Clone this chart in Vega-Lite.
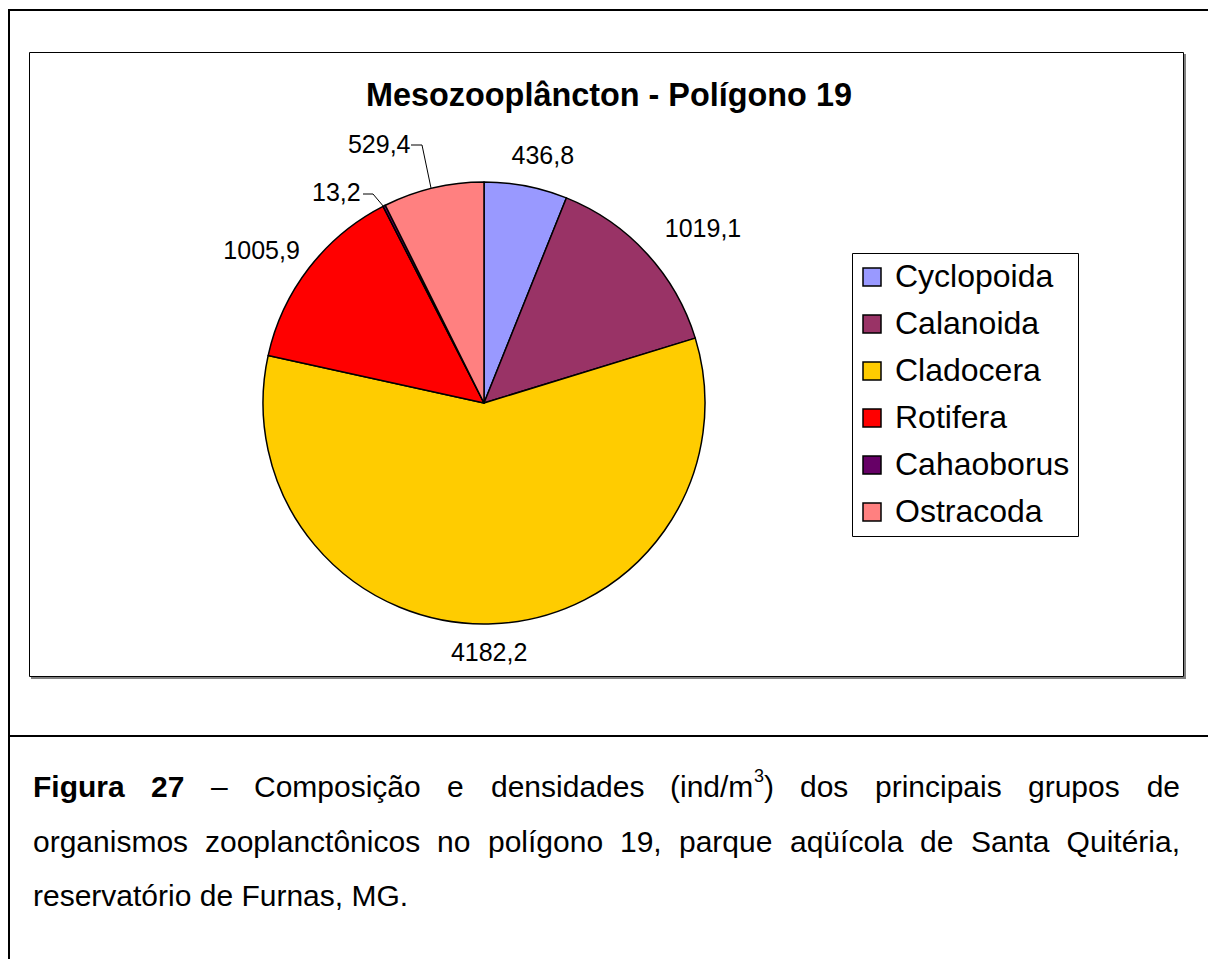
{
  "$schema": "https://vega.github.io/schema/vega-lite/v6.json",
  "width": 1208,
  "height": 959,
  "padding": 0,
  "autosize": {"type": "none"},
  "background": "white",
  "config": {
    "view": {"stroke": null},
    "font": "Liberation Sans",
    "text": {"font": "Liberation Sans", "fill": "black", "baseline": "alphabetic", "align": "left", "fontSize": 30},
    "rule": {"stroke": "black", "strokeWidth": 2},
    "locale": {"number": {"decimal": ",", "thousands": ".", "grouping": [3], "currency": ["R$", ""]}}
  },
  "datasets": {
    "zoo": [
      {"grupo": "Cyclopoida", "densidade": 436.8, "ordem": 1},
      {"grupo": "Calanoida", "densidade": 1019.1, "ordem": 2},
      {"grupo": "Cladocera", "densidade": 4182.2, "ordem": 3},
      {"grupo": "Rotifera", "densidade": 1005.9, "ordem": 4},
      {"grupo": "Cahaoborus", "densidade": 13.2, "ordem": 5},
      {"grupo": "Ostracoda", "densidade": 529.4, "ordem": 6}
    ],
    "um": [{}]
  },
  "layer": [
    {"data": {"name": "um"}, "mark": {"type": "rule"}, "encoding": {"x": {"value": 9}, "y": {"value": 10}, "x2": {"value": 1208}, "y2": {"value": 10}}},
    {"data": {"name": "um"}, "mark": {"type": "rule"}, "encoding": {"x": {"value": 9}, "y": {"value": 9}, "x2": {"value": 9}, "y2": {"value": 959}}},
    {"data": {"name": "um"}, "mark": {"type": "rule"}, "encoding": {"x": {"value": 9}, "y": {"value": 736}, "x2": {"value": 1208}, "y2": {"value": 736}}},
    {"data": {"name": "um"}, "mark": {"type": "rule", "stroke": "#808080", "strokeWidth": 2}, "encoding": {"x": {"value": 1185}, "y": {"value": 54}, "x2": {"value": 1185}, "y2": {"value": 678}}},
    {"data": {"name": "um"}, "mark": {"type": "rule", "stroke": "#808080", "strokeWidth": 2}, "encoding": {"x": {"value": 31}, "y": {"value": 678}, "x2": {"value": 1186}, "y2": {"value": 678}}},
    {
      "data": {"name": "um"},
      "mark": {"type": "rect", "fill": "white", "stroke": "black", "strokeWidth": 1},
      "encoding": {"x": {"value": 29.5}, "y": {"value": 52.5}, "x2": {"value": 1183.5}, "y2": {"value": 676.5}}
    },
    {
      "data": {"name": "um"},
      "mark": {"type": "text", "text": "Mesozooplâncton - Polígono 19", "fontSize": 32.4, "fontWeight": "bold", "align": "center", "baseline": "middle"},
      "encoding": {"x": {"value": 609}, "y": {"value": 96}}
    },
    {
      "data": {"name": "zoo"},
      "mark": {"type": "arc", "x": 484, "y": 403, "outerRadius": 221, "stroke": "black", "strokeWidth": 1.5, "strokeJoin": "round"},
      "encoding": {
        "theta": {"field": "densidade", "type": "quantitative", "stack": true},
        "order": {"field": "ordem", "type": "quantitative"},
        "color": {
          "field": "grupo",
          "type": "nominal",
          "scale": {
            "domain": ["Cyclopoida", "Calanoida", "Cladocera", "Rotifera", "Cahaoborus", "Ostracoda"],
            "range": ["#9999FF", "#993366", "#FFCC00", "#FF0000", "#660066", "#FF8080"]
          },
          "legend": {
            "orient": "none",
            "legendX": 852,
            "legendY": 253,
            "title": null,
            "padding": 8,
            "strokeColor": "black",
            "fillColor": "white",
            "symbolType": "square",
            "symbolSize": 324,
            "symbolOffset": -4,
            "symbolStrokeColor": "black",
            "symbolStrokeWidth": 1.5,
            "symbolOpacity": 1,
            "labelFontSize": 32,
            "labelFont": "Liberation Sans",
            "labelColor": "black",
            "labelOffset": 7,
            "labelLimit": 400,
            "rowPadding": 15
          }
        }
      }
    },
    {
      "data": {"name": "zoo"},
      "mark": {"type": "text", "x": 484, "y": 403, "radius": 252, "dx": 11, "fontSize": 25, "align": "center", "baseline": "middle"},
      "encoding": {
        "theta": {"field": "densidade", "type": "quantitative", "stack": true},
        "order": {"field": "ordem", "type": "quantitative"},
        "detail": {"field": "grupo", "type": "nominal"},
        "text": {"condition": {"test": "datum.grupo === 'Cyclopoida'", "field": "densidade", "type": "quantitative", "format": ".1f"}, "value": ""}
      }
    },
    {
      "data": {"name": "zoo"},
      "mark": {"type": "text", "x": 484, "y": 403, "radius": 269, "dx": 21, "dy": 8, "fontSize": 25, "align": "center", "baseline": "middle"},
      "encoding": {
        "theta": {"field": "densidade", "type": "quantitative", "stack": true},
        "order": {"field": "ordem", "type": "quantitative"},
        "detail": {"field": "grupo", "type": "nominal"},
        "text": {"condition": {"test": "datum.grupo === 'Calanoida'", "field": "densidade", "type": "quantitative", "format": ".1f"}, "value": ""}
      }
    },
    {
      "data": {"name": "zoo"},
      "mark": {"type": "text", "x": 484, "y": 403, "radius": 250, "dx": -5, "fontSize": 25, "align": "center", "baseline": "middle"},
      "encoding": {
        "theta": {"field": "densidade", "type": "quantitative", "stack": true},
        "order": {"field": "ordem", "type": "quantitative"},
        "detail": {"field": "grupo", "type": "nominal"},
        "text": {"condition": {"test": "datum.grupo === 'Cladocera'", "field": "densidade", "type": "quantitative", "format": ".1f"}, "value": ""}
      }
    },
    {
      "data": {"name": "zoo"},
      "mark": {"type": "text", "x": 484, "y": 403, "radius": 272, "dx": -7, "dy": 14, "fontSize": 25, "align": "center", "baseline": "middle"},
      "encoding": {
        "theta": {"field": "densidade", "type": "quantitative", "stack": true},
        "order": {"field": "ordem", "type": "quantitative"},
        "detail": {"field": "grupo", "type": "nominal"},
        "text": {"condition": {"test": "datum.grupo === 'Rotifera'", "field": "densidade", "type": "quantitative", "format": ".1f"}, "value": ""}
      }
    },
    {
      "data": {"name": "zoo"},
      "mark": {"type": "text", "x": 484, "y": 403, "radius": 245, "dx": -37, "dy": 9, "fontSize": 25, "align": "center", "baseline": "middle"},
      "encoding": {
        "theta": {"field": "densidade", "type": "quantitative", "stack": true},
        "order": {"field": "ordem", "type": "quantitative"},
        "detail": {"field": "grupo", "type": "nominal"},
        "text": {"condition": {"test": "datum.grupo === 'Cahaoborus'", "field": "densidade", "type": "quantitative", "format": ".1f"}, "value": ""}
      }
    },
    {
      "data": {"name": "zoo"},
      "mark": {"type": "text", "x": 484, "y": 403, "radius": 265, "dx": -44, "dy": 0, "fontSize": 25, "align": "center", "baseline": "middle"},
      "encoding": {
        "theta": {"field": "densidade", "type": "quantitative", "stack": true},
        "order": {"field": "ordem", "type": "quantitative"},
        "detail": {"field": "grupo", "type": "nominal"},
        "text": {"condition": {"test": "datum.grupo === 'Ostracoda'", "field": "densidade", "type": "quantitative", "format": ".1f"}, "value": ""}
      }
    },
    {"data": {"name": "um"}, "mark": {"type": "rule", "strokeWidth": 1}, "encoding": {"x": {"value": 411}, "y": {"value": 145}, "x2": {"value": 422}, "y2": {"value": 145}}},
    {"data": {"name": "um"}, "mark": {"type": "rule", "strokeWidth": 1}, "encoding": {"x": {"value": 422}, "y": {"value": 145}, "x2": {"value": 431}, "y2": {"value": 188}}},
    {"data": {"name": "um"}, "mark": {"type": "rule", "strokeWidth": 1}, "encoding": {"x": {"value": 363}, "y": {"value": 194}, "x2": {"value": 373}, "y2": {"value": 194}}},
    {"data": {"name": "um"}, "mark": {"type": "rule", "strokeWidth": 1}, "encoding": {"x": {"value": 373}, "y": {"value": 194}, "x2": {"value": 384}, "y2": {"value": 207}}},

    {"data": {"name": "um"}, "mark": {"type": "text", "text": "Figura", "fontWeight": "bold"}, "encoding": {"x": {"value": 33}, "y": {"value": 797}}},
    {"data": {"name": "um"}, "mark": {"type": "text", "text": "27", "fontWeight": "bold"}, "encoding": {"x": {"value": 151}, "y": {"value": 797}}},
    {"data": {"name": "um"}, "mark": {"type": "text", "text": "–"}, "encoding": {"x": {"value": 211}, "y": {"value": 797}}},
    {"data": {"name": "um"}, "mark": {"type": "text", "text": "Composição"}, "encoding": {"x": {"value": 254}, "y": {"value": 797}}},
    {"data": {"name": "um"}, "mark": {"type": "text", "text": "e"}, "encoding": {"x": {"value": 447}, "y": {"value": 797}}},
    {"data": {"name": "um"}, "mark": {"type": "text", "text": "densidades"}, "encoding": {"x": {"value": 491}, "y": {"value": 797}}},
    {"data": {"name": "um"}, "mark": {"type": "text", "text": "(ind/m"}, "encoding": {"x": {"value": 670}, "y": {"value": 797}}},
    {"data": {"name": "um"}, "mark": {"type": "text", "text": "3", "fontSize": 18}, "encoding": {"x": {"value": 754}, "y": {"value": 782}}},
    {"data": {"name": "um"}, "mark": {"type": "text", "text": ")"}, "encoding": {"x": {"value": 764}, "y": {"value": 797}}},
    {"data": {"name": "um"}, "mark": {"type": "text", "text": "dos"}, "encoding": {"x": {"value": 800}, "y": {"value": 797}}},
    {"data": {"name": "um"}, "mark": {"type": "text", "text": "principais"}, "encoding": {"x": {"value": 875}, "y": {"value": 797}}},
    {"data": {"name": "um"}, "mark": {"type": "text", "text": "grupos"}, "encoding": {"x": {"value": 1028}, "y": {"value": 797}}},
    {"data": {"name": "um"}, "mark": {"type": "text", "text": "de", "align": "right"}, "encoding": {"x": {"value": 1180}, "y": {"value": 797}}},

    {"data": {"name": "um"}, "mark": {"type": "text", "text": "organismos"}, "encoding": {"x": {"value": 33}, "y": {"value": 852}}},
    {"data": {"name": "um"}, "mark": {"type": "text", "text": "zooplanctônicos"}, "encoding": {"x": {"value": 205}, "y": {"value": 852}}},
    {"data": {"name": "um"}, "mark": {"type": "text", "text": "no"}, "encoding": {"x": {"value": 437}, "y": {"value": 852}}},
    {"data": {"name": "um"}, "mark": {"type": "text", "text": "polígono"}, "encoding": {"x": {"value": 488}, "y": {"value": 852}}},
    {"data": {"name": "um"}, "mark": {"type": "text", "text": "19,"}, "encoding": {"x": {"value": 620}, "y": {"value": 852}}},
    {"data": {"name": "um"}, "mark": {"type": "text", "text": "parque"}, "encoding": {"x": {"value": 679}, "y": {"value": 852}}},
    {"data": {"name": "um"}, "mark": {"type": "text", "text": "aqüícola"}, "encoding": {"x": {"value": 790}, "y": {"value": 852}}},
    {"data": {"name": "um"}, "mark": {"type": "text", "text": "de"}, "encoding": {"x": {"value": 920}, "y": {"value": 852}}},
    {"data": {"name": "um"}, "mark": {"type": "text", "text": "Santa"}, "encoding": {"x": {"value": 971}, "y": {"value": 852}}},
    {"data": {"name": "um"}, "mark": {"type": "text", "text": "Quitéria,", "align": "right"}, "encoding": {"x": {"value": 1180}, "y": {"value": 852}}},

    {"data": {"name": "um"}, "mark": {"type": "text", "text": "reservatório de Furnas, MG."}, "encoding": {"x": {"value": 33}, "y": {"value": 906}}}
  ]
}
